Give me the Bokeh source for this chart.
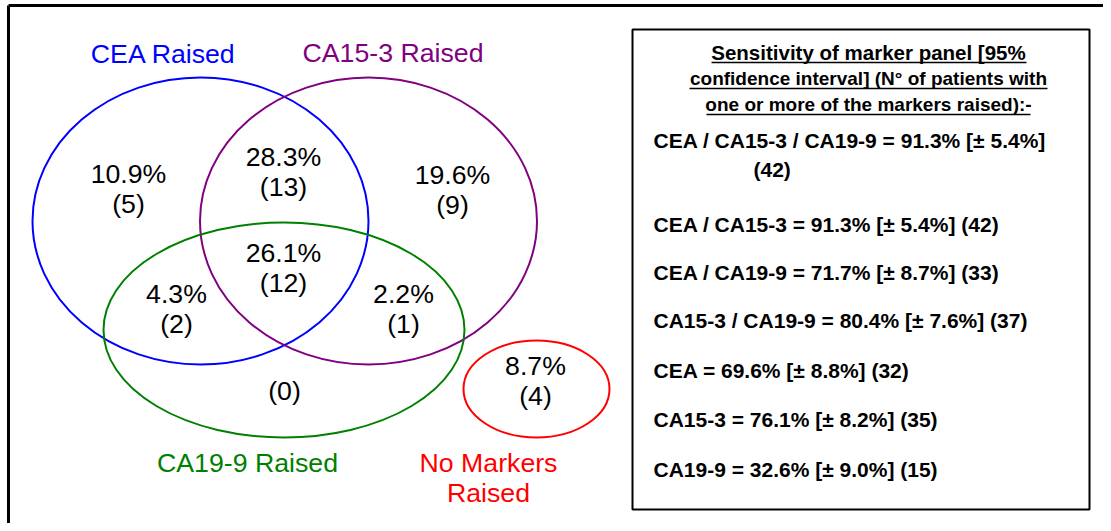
from bokeh.plotting import figure
from bokeh.models import Range1d, ColumnDataSource
from bokeh.core.properties import value
from bokeh.embed import file_html
from bokeh.resources import INLINE

# ---------------- data ----------------
set_names = ["CEA Raised", "CA15-3 Raised", "CA19-9 Raised"]
none_label = ["No Markers", "Raised"]

# Venn regions: CEA only, CEA&CA15-3, CA15-3 only, CEA&CA19-9, all three,
# CA15-3&CA19-9, CA19-9 only, none
region_pct = [10.9, 28.3, 19.6, 4.3, 26.1, 2.2, None, 8.7]
region_n = [5, 13, 9, 2, 12, 1, 0, 4]

panel_names = ["CEA / CA15-3 / CA19-9", "CEA / CA15-3", "CEA / CA19-9",
               "CA15-3 / CA19-9", "CEA", "CA15-3", "CA19-9"]
panel_sens = [91.3, 91.3, 71.7, 80.4, 69.6, 76.1, 32.6]
panel_ci = [5.4, 5.4, 8.7, 7.6, 8.8, 8.2, 9.0]
panel_n = [42, 42, 33, 37, 32, 35, 15]

heading = ["Sensitivity of marker panel [95%",
           "confidence interval] (N\u00b0 of patients with",
           "one or more of the markers raised):-"]

# ---------------- layout (reference-pixel coordinates) ----------------
FONT = value("Liberation Sans")
W, H = 1103, 523
BIG = "26.7px"

p = figure(width=W, height=H, output_backend="svg", toolbar_location=None,
           x_range=Range1d(0, W), y_range=Range1d(H, 0),
           x_axis_type=None, y_axis_type=None, min_border=0,
           outline_line_color=None, background_fill_color="white",
           border_fill_color="white")
p.grid.visible = False

# outer frame (only top and left visible in the reference)
p.segment(x0=[8, 8], y0=[5, 5], x1=[1111, 8], y1=[5, 531],
          line_color="black", line_width=3)

# Venn ellipses
ell = ColumnDataSource(dict(
    x=[200, 368, 283.5, 536],
    y=[220.5, 220.5, 329.5, 388.5],
    w=[336, 337, 361, 146],
    h=[287, 287, 215, 97],
    c=["#0000FF", "#800080", "#008000", "#FF0000"],
))
p.ellipse(x="x", y="y", width="w", height="h", source=ell,
          fill_color=None, line_color="c", line_width=2)

# set labels (y = vertical middle of the text)
lab_x = [163, 392.5, 247]
lab_y = [53.5, 52.5, 462.5]
lab_c = ["#0000FF", "#800080", "#008000"]
p.text(x=lab_x, y=lab_y, text=set_names, text_color=lab_c,
       text_font=FONT, text_font_size=BIG, text_align="center",
       text_baseline="middle")
p.text(x=[488, 488], y=[462.5, 492.5], text=none_label, text_color="#FF0000",
       text_font=FONT, text_font_size=BIG, text_align="center",
       text_baseline="middle")

# region values
reg_x = [128, 283, 452, 176, 283, 403, 284, 535]
reg_y = [173.5, 156.5, 174.5, 293.5, 252.5, 293.5, 360.5, 365.5]
t_x, t_y, t_txt = [], [], []
for i, (pc, n) in enumerate(zip(region_pct, region_n)):
    if pc is not None:
        t_x.append(reg_x[i]); t_y.append(reg_y[i]); t_txt.append(f"{pc}%")
    t_x.append(reg_x[i]); t_y.append(reg_y[i] + 30); t_txt.append(f"({n})")
p.text(x=t_x, y=t_y, text=t_txt, text_color="black", text_font=FONT,
       text_font_size=BIG, text_align="center", text_baseline="middle")

# right-hand box
p.quad(left=[632], right=[1089], top=[29], bottom=[509],
       fill_color=None, line_color="black", line_width=2)

hx = 868
hy = [51.7, 78.2, 104.4]
hsize = ["20.5px", "19px", "19px"]
for txt, y, fs in zip(heading, hy, hsize):
    p.text(x=[hx], y=[y], text=[txt], text_color="black", text_font=FONT,
           text_font_size=fs, text_font_style="bold", text_align="center",
           text_baseline="middle")
ul_x0 = [711, 689, 706]
ul_x1 = [1026, 1047, 1030]
ul_y = [62, 88, 114]
p.segment(x0=ul_x0, x1=ul_x1, y0=ul_y, y1=ul_y,
          line_color="black", line_width=1.5)

body_y = [140.4, 224.4, 272.4, 320.4, 370.4, 419.4, 469.4]
bx, by, btxt = [], [], []
for i, (nm, s, ci, n) in enumerate(zip(panel_names, panel_sens, panel_ci, panel_n)):
    line = f"{nm} = {s}% [\u00b1 {ci}%]"
    if i == 0:
        bx += [653, 753]; by += [body_y[i], body_y[i] + 29]
        btxt += [line, f"({n})"]
    else:
        bx.append(653); by.append(body_y[i]); btxt.append(f"{line} ({n})")
p.text(x=bx, y=by, text=btxt, text_color="black", text_font=FONT,
       text_font_size="21px", text_font_style="bold", text_align="left",
       text_baseline="middle")

open("out.html", "w").write(file_html(p, INLINE))
